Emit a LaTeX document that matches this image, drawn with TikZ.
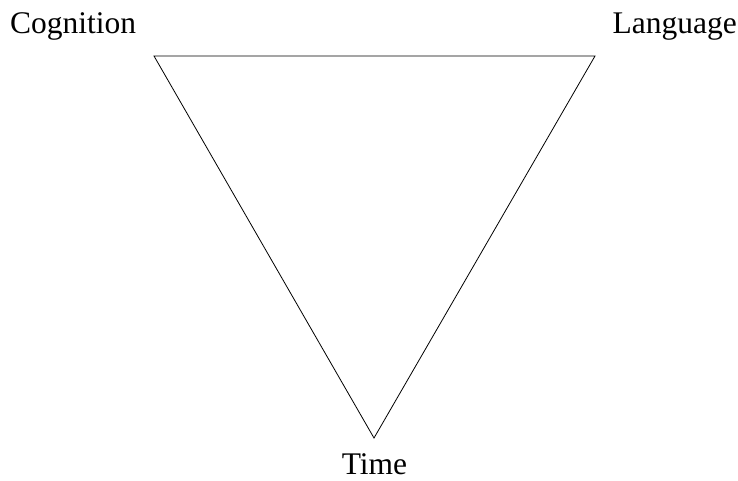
\documentclass[tikz,border=0pt]{standalone}
\usepackage{fontspec}
\setmainfont{Liberation Serif}
\begin{document}
\begin{tikzpicture}[x=1pt,y=-1pt,
  lbl/.style={inner sep=0pt,font=\fontsize{31.5}{36}\selectfont},
  edge/.style={draw=black,line width=0.8pt,line join=miter}]
\useasboundingbox (0,0) rectangle (738,480);
\coordinate (cg) at (154,56);
\coordinate (lg) at (595,56);
\coordinate (tm) at (374,438);
\draw[edge] (cg) -- (lg) -- (tm) -- cycle;
\node[lbl,anchor=base west] (cog) at (10,33) {Cognition};
\node[lbl,anchor=base east] (lan) at (737,33) {Language};
\node[lbl,anchor=base,text depth=0pt] (tim) at (374.5,474) {Time};
\end{tikzpicture}
\end{document}
